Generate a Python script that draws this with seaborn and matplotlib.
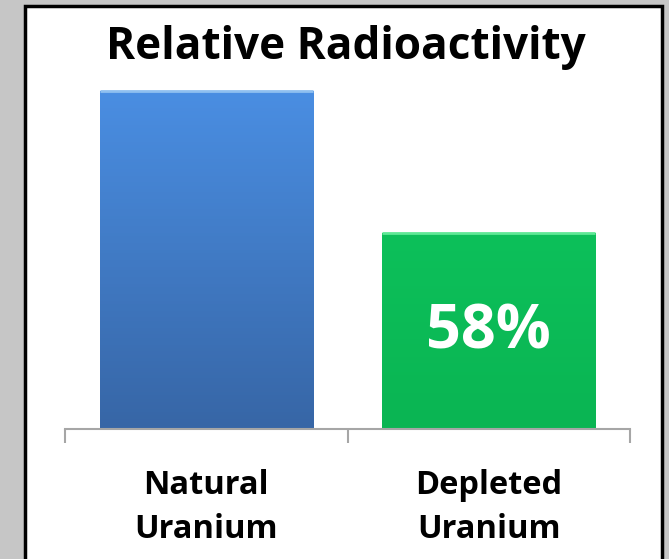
import numpy as np
import pandas as pd
import matplotlib
matplotlib.use("Agg")
import matplotlib.pyplot as plt
from matplotlib.patches import Rectangle
import seaborn as sns

# data
categories = ["Natural\nUranium", "Depleted\nUranium"]
radioactivity = [100, 58]
bar_labels = ["", "58%"]
title = "Relative Radioactivity"

df = pd.DataFrame({"category": categories, "value": radioactivity})

sns.set_style("white")
plt.rcParams["font.family"] = ["Open Sans", "DejaVu Sans"]
plt.rcParams["text.color"] = "black"

fig = plt.figure(figsize=(6.69, 5.59), dpi=100)
fig.patch.set_facecolor("#c6c6c6")

# white panel with black border
fig.patches.append(Rectangle((25 / 669, -0.01), (662 - 25) / 669, 1 - 6 / 559 + 0.01,
                             transform=fig.transFigure, facecolor="white",
                             edgecolor="black", linewidth=2.5, zorder=0))

ax = fig.add_axes([65 / 669, 1 - 429 / 559, 565 / 669, (429 - 75) / 559])
ax.set_zorder(2)
ax.set_facecolor("none")
sns.barplot(data=df, x="category", y="value", hue="category",
            palette=["#3f7fcf", "#0bbb55"], width=0.755, ax=ax,
            legend=False, edgecolor="none")
ax.set_ylim(0, 100 * (429 - 75) / (429 - 91))
ax.set_xlim(-0.5, 1.5)

# gradient on the bars
grads = [("#4a8ee2", "#3766a6", "#8fc0f0"), ("#0dc05a", "#0ab553", "#5fe895")]
for patch, (c_top, c_bot, c_edge) in zip(ax.patches, grads):
    x0, y0 = patch.get_x(), patch.get_y()
    w, h = patch.get_width(), patch.get_height()
    top = np.array(matplotlib.colors.to_rgb(c_top))
    bot = np.array(matplotlib.colors.to_rgb(c_bot))
    t = np.linspace(0, 1, 100)[:, None]
    img = (bot * (1 - t) + top * t)[:, None, :]
    im = ax.imshow(img, extent=[x0, x0 + w, y0, y0 + h], origin="lower",
                   aspect="auto", zorder=patch.get_zorder() + 0.1)
    im.set_clip_path(patch)
    # light top edge
    ax.plot([x0, x0 + w], [y0 + h, y0 + h], color=c_edge,
            lw=2, zorder=patch.get_zorder() + 0.2, solid_capstyle="butt")

for patch, lab in zip(ax.patches, bar_labels):
    if lab:
        ax.text(patch.get_x() + patch.get_width() / 2, patch.get_height() * 0.49, lab,
                ha="center", va="center", color="white", fontsize=44,
                fontweight="bold", zorder=5)

ax.set_yticks([])
ax.set_ylabel("")
ax.set_xlabel("")
for s in ["top", "right", "left"]:
    ax.spines[s].set_visible(False)
ax.spines["bottom"].set_color("#a6a6a6")
ax.spines["bottom"].set_linewidth(1.5)
ax.set_xticks([-0.5, 0.5, 1.5])
ax.set_xticklabels([])
ax.tick_params(axis="x", length=10, width=1.5, color="#a6a6a6", direction="out", bottom=True)
for i, cat in enumerate(categories):
    ax.text(i, -0.112, cat, transform=ax.get_xaxis_transform(), ha="center", va="top",
            fontsize=23.5, fontweight="bold", linespacing=1.45, color="black")

fig.text(346 / 669, 1 - 47 / 559, title, ha="center", va="center",
         fontsize=31.8, fontweight="bold", color="black")

fig.savefig("out.png", dpi=100, facecolor=fig.get_facecolor())
